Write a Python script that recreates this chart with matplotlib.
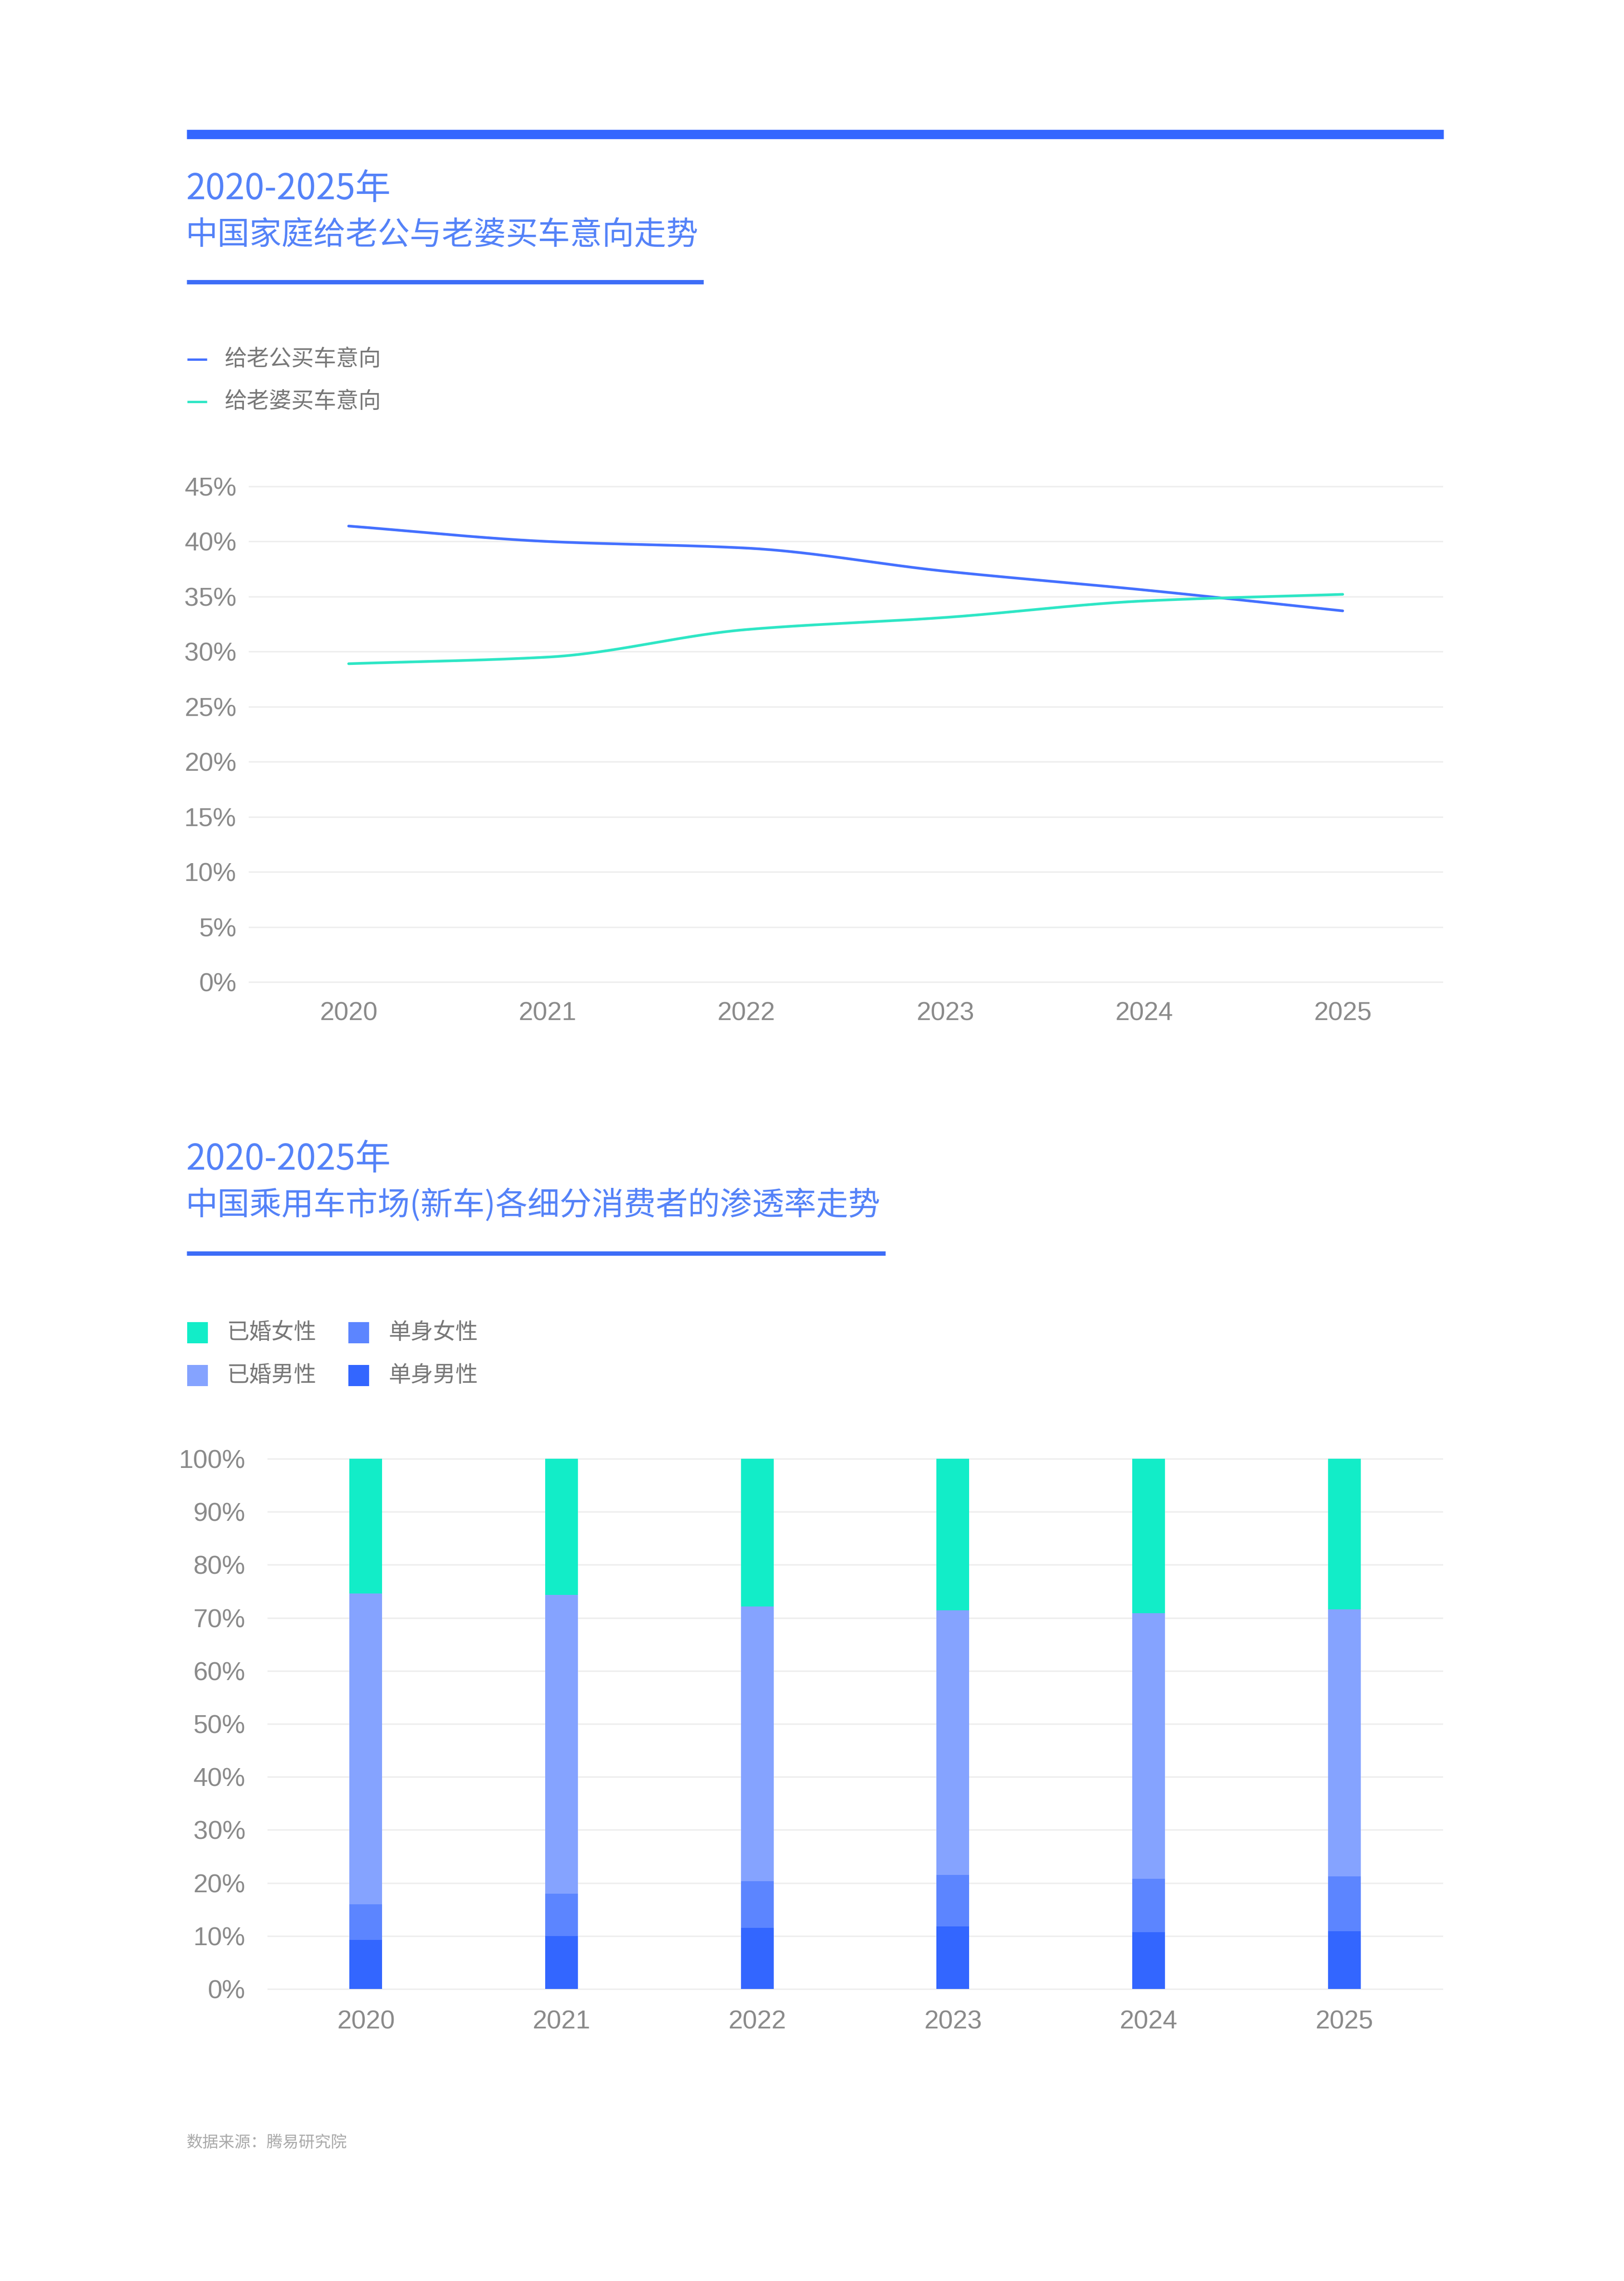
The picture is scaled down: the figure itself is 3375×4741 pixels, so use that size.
import numpy as np
import matplotlib
matplotlib.use("Agg")
import matplotlib.pyplot as plt
from matplotlib.patches import Rectangle
from matplotlib.lines import Line2D

years = ["2020", "2021", "2022", "2023", "2024", "2025"]

# chart 1: intention to buy a car (%)
husband = [41.4, 40.0, 39.4, 37.3, 35.6, 33.7]
wife = [28.9, 29.5, 32.0, 33.1, 34.6, 35.2]
line_labels = ["给老公买车意向", "给老婆买车意向"]
line_ticks = [0, 5, 10, 15, 20, 25, 30, 35, 40, 45]

# chart 2: penetration by segment (%), bottom to top
single_male = [9.3, 10.0, 11.5, 11.8, 10.7, 10.9]
single_female = [6.7, 8.0, 8.8, 9.7, 10.1, 10.3]
married_male = [58.6, 56.3, 51.8, 49.9, 50.1, 50.4]
married_female = [25.4, 25.7, 27.9, 28.6, 29.1, 28.4]
bar_labels = ["单身男性", "单身女性", "已婚男性", "已婚女性"]
bar_ticks = [0, 10, 20, 30, 40, 50, 60, 70, 80, 90, 100]

BLUE = "#3366FF"
TEAL = "#12EDC8"
TITLE = "#5482F8"
GRID = "#EEEEEE"
TICK = "#8A8A8A"
LEG = "#777777"
CJK = ["Noto Sans CJK SC", "DejaVu Sans"]
LAT = ["Liberation Sans", "DejaVu Sans"]

W, H = 3375, 4741
fig = plt.figure(figsize=(W / 100, H / 100), dpi=100)
fig.patch.set_facecolor("white")


def fx(x):
    return x / W


def fy(y):
    return 1 - y / H


def axes_px(left, top, right, bottom):
    return fig.add_axes([fx(left), fy(bottom), fx(right - left), (bottom - top) / H])


def monotone(xs, ys, n=60):
    # monotone cubic hermite, only used to draw the smooth line
    xs = np.asarray(xs, float)
    ys = np.asarray(ys, float)
    h = np.diff(xs)
    d = np.diff(ys) / h
    m = np.zeros_like(ys)
    m[0], m[-1] = d[0], d[-1]
    for i in range(1, len(ys) - 1):
        if d[i - 1] * d[i] > 0:
            m[i] = 2 / (1 / d[i - 1] + 1 / d[i])
    px, py = [], []
    for i in range(len(xs) - 1):
        t = np.linspace(0, 1, n)
        h00 = 2 * t**3 - 3 * t**2 + 1
        h10 = t**3 - 2 * t**2 + t
        h01 = -2 * t**3 + 3 * t**2
        h11 = t**3 - t**2
        px.append(xs[i] + t * h[i])
        py.append(h00 * ys[i] + h10 * h[i] * m[i] + h01 * ys[i + 1] + h11 * h[i] * m[i + 1])
    return np.concatenate(px), np.concatenate(py)


def style_axes(ax, ticks, ypad, xpad):
    for s in ax.spines.values():
        s.set_visible(False)
    ax.set_yticks(ticks)
    ax.set_yticklabels([f"{t}%" for t in ticks])
    ax.yaxis.grid(True, color=GRID, linewidth=2.2)
    ax.set_axisbelow(True)
    for gl in ax.get_ygridlines():
        gl.set_clip_on(False)
    ax.tick_params(axis="y", length=0, pad=ypad, labelsize=39, labelcolor=TICK)
    ax.tick_params(axis="x", length=0, pad=xpad, labelsize=39, labelcolor=TICK)
    for lab in ax.get_xticklabels() + ax.get_yticklabels():
        lab.set_family(LAT)


def title_block(y1, y2, yline, xend, line2):
    fig.text(fx(386), fy(y1), "2020-2025年", color=TITLE, fontsize=53, family=CJK,
             fontweight="light", va="center", ha="left")
    fig.text(fx(386), fy(y2), line2, color=TITLE, fontsize=48, family=CJK,
             fontweight="light", va="center", ha="left")
    fig.add_artist(Line2D([fx(388), fx(xend)], [fy(yline), fy(yline)], color="#3D6DF7",
                          linewidth=6.5, solid_capstyle="butt"))


# top bar
fig.add_artist(Line2D([fx(388), fx(3000)], [fy(279), fy(279)], color=BLUE, linewidth=14, solid_capstyle="butt"))

# ---- chart 1 ----
title_block(393, 489, 586, 1462, "中国家庭给老公与老婆买车意向走势")
for i, (lab, col) in enumerate(zip(line_labels, ["#4470FF", "#2EE6C5"])):
    yy = 747 + i * 88
    fig.add_artist(Line2D([fx(389), fx(430)], [fy(yy), fy(yy)], color=col, linewidth=3.5, solid_capstyle="butt"))
    fig.text(fx(466), fy(yy), lab, color=LEG, fontsize=33.5, family=CJK, va="center", ha="left")

ax1 = axes_px(518, 1011, 2997, 2041)
x = np.arange(len(years))
sx, sy = monotone(x, husband)
ax1.plot(sx, sy, color="#4470FF", linewidth=4, solid_capstyle="round")
sx, sy = monotone(x, wife)
ax1.plot(sx, sy, color="#2EE6C5", linewidth=4, solid_capstyle="round")
ax1.set_xlim(-0.5, len(years) - 0.5)
ax1.set_ylim(0, 45)
ax1.set_xticks(x)
ax1.set_xticklabels(years)
style_axes(ax1, line_ticks, 19, 29)

# ---- chart 2 ----
title_block(2410, 2505, 2605, 1840, "中国乘用车市场(新车)各细分消费者的渗透率走势")

bar_colors = [BLUE, "#5C85FF", "#85A3FF", TEAL]
legend_pos = [(1, 1), (0, 1), (1, 0), (0, 0)]  # (row, col) for each series
for lab, col, (r, c) in zip(bar_labels, bar_colors, legend_pos):
    sq_x = 389 if c == 0 else 724
    yy = 2770 + r * 89
    fig.patches.append(Rectangle((fx(sq_x), fy(yy + 22)), 43 / W, 44 / H, transform=fig.transFigure,
                                 facecolor=col, edgecolor="none", figure=fig))
    fig.text(fx(sq_x + 83), fy(yy), lab, color=LEG, fontsize=33.5, family=CJK, va="center", ha="left")

ax2 = axes_px(557, 3032, 2997, 4134)
bottom = np.zeros(len(years))
for vals, col in zip([single_male, single_female, married_male, married_female], bar_colors):
    ax2.bar(x, vals, width=0.168, bottom=bottom, color=col, linewidth=0, zorder=3)
    bottom += np.array(vals)
ax2.set_xlim(-0.5, len(years) - 0.5)
ax2.set_ylim(0, 100)
ax2.set_xticks(x)
ax2.set_xticklabels(years)
style_axes(ax2, bar_ticks, 34, 31)

fig.text(fx(388), fy(4453), "数据来源：腾易研究院", color="#AAAAAA", fontsize=24, family=CJK, va="center", ha="left")

fig.savefig("out.png", dpi=100, facecolor="white")
